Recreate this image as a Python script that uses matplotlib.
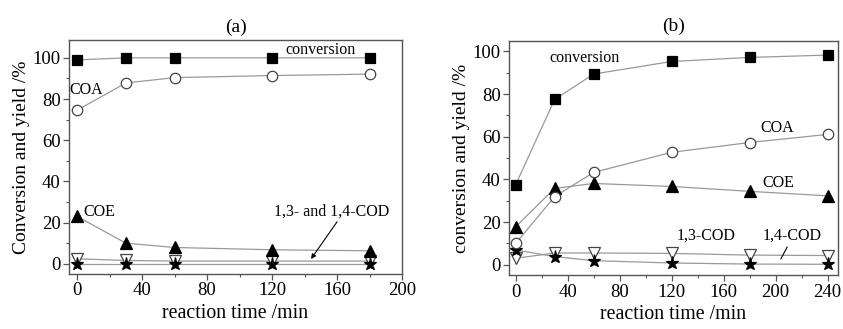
import matplotlib
matplotlib.use("Agg")
import matplotlib.pyplot as plt
from matplotlib.ticker import MultipleLocator

plt.rcParams['font.family'] = ['Liberation Serif', 'DejaVu Serif']

# Panel (a)
t_a = [0, 30, 60, 120, 180]
conv_a = [99, 100, 100, 100, 100]
coa_a = [74.6, 87.8, 90.4, 91.4, 92.1]
coe_a = [23, 10, 7.9, 6.8, 6.3]
cod13_a = [2.4, 1.6, 1.3, 1.3, 1.3]
cod14_a = [0, 0, 0, 0, 0]

# Panel (b)
t_b = [0, 30, 60, 120, 180, 240]
conv_b = [37.5, 77.5, 89.4, 95.3, 97.2, 98.3]
coa_b = [10, 31.9, 43.3, 52.7, 57.3, 61.1]
coe_b = [17.8, 35.8, 38.1, 36.7, 34.4, 32.3]
cod13_b = [3, 5.5, 5.5, 5.3, 4.5, 4.3]
cod14_b = [6.9, 3.8, 1.9, 0.8, 0.3, 0.2]

fig = plt.figure(figsize=(8.43, 3.29), dpi=100)
ax1 = fig.add_axes([0.0819, 0.167, 0.395, 0.711])
ax2 = fig.add_axes([0.604, 0.163, 0.390, 0.713])

lc = '#999999'
lw = 0.9

def series(ax, t, y, marker, filled, ms):
    ax.plot(t, y, color=lc, lw=lw, zorder=1)
    ax.plot(t, y, ls='none', marker=marker, ms=ms,
            mfc='black' if filled else 'white', mec='black' if filled else '#444444',
            mew=0.9, zorder=3)

for ax, t, conv, coa, coe, c13, c14 in [
    (ax1, t_a, conv_a, coa_a, coe_a, cod13_a, cod14_a),
    (ax2, t_b, conv_b, coa_b, coe_b, cod13_b, cod14_b)]:
    series(ax, t, c13, 'v', False, 8)
    series(ax, t, c14, '*', True, 9.5)
    series(ax, t, coe, '^', True, 8)
    series(ax, t, coa, 'o', False, 7.5)
    series(ax, t, conv, 's', True, 6.8)
    for s in ax.spines.values():
        s.set_color('#555555')
        s.set_linewidth(1.0)
    ax.tick_params(axis='both', which='major', direction='out', length=4,
                   width=0.9, color='#555555', labelsize=13.5, pad=2)
    ax.tick_params(axis='both', which='minor', direction='out', length=2.5,
                   width=0.8, color='#555555')
    ax.tick_params(top=False, right=False)
    ax.xaxis.set_major_locator(MultipleLocator(40))
    ax.xaxis.set_minor_locator(MultipleLocator(20))
    ax.yaxis.set_major_locator(MultipleLocator(20))
    ax.yaxis.set_minor_locator(MultipleLocator(10))
    ax.set_xlabel('reaction time /min', fontsize=14.3, labelpad=3)

ax1.set_xlim(-5, 200)
ax1.set_ylim(-5, 108.6)
ax1.set_ylabel('Conversion and yield /%', fontsize=14, labelpad=2)
ax1.set_title('(a)', fontsize=14, pad=6)

ax2.set_xlim(-5, 248)
ax2.set_ylim(-5, 105)
ax2.set_ylabel('conversion and yield /%', fontsize=14, labelpad=2)
ax2.set_title('(b)', fontsize=14, pad=7)

fs = 11.5
ax1.text(128, 104, 'conversion', fontsize=fs, va='center')
ax1.text(-4.5, 84.5, 'COA', fontsize=fs, va='center')
ax1.text(4, 25, 'COE', fontsize=fs, va='center')
ax1.text(121, 25.5, '1,3- and 1,4-COD', fontsize=fs, va='center')
ax1.annotate('', xy=(143, 1.2), xytext=(161, 21.5),
             arrowprops=dict(arrowstyle='-|>', color='black', lw=0.8,
                             mutation_scale=7))

ax2.text(26, 97, 'conversion', fontsize=fs, va='center')
ax2.text(188, 64, 'COA', fontsize=fs, va='center')
ax2.text(190, 38.5, 'COE', fontsize=fs, va='center')
ax2.text(124, 13.5, '1,3-COD', fontsize=fs, va='center')
ax2.text(190, 13.5, '1,4-COD', fontsize=fs, va='center')
ax2.annotate('', xy=(203, 1.5), xytext=(210, 9.5),
             arrowprops=dict(arrowstyle='-', color='black', lw=0.8))

fig.savefig('out.png', dpi=100)
